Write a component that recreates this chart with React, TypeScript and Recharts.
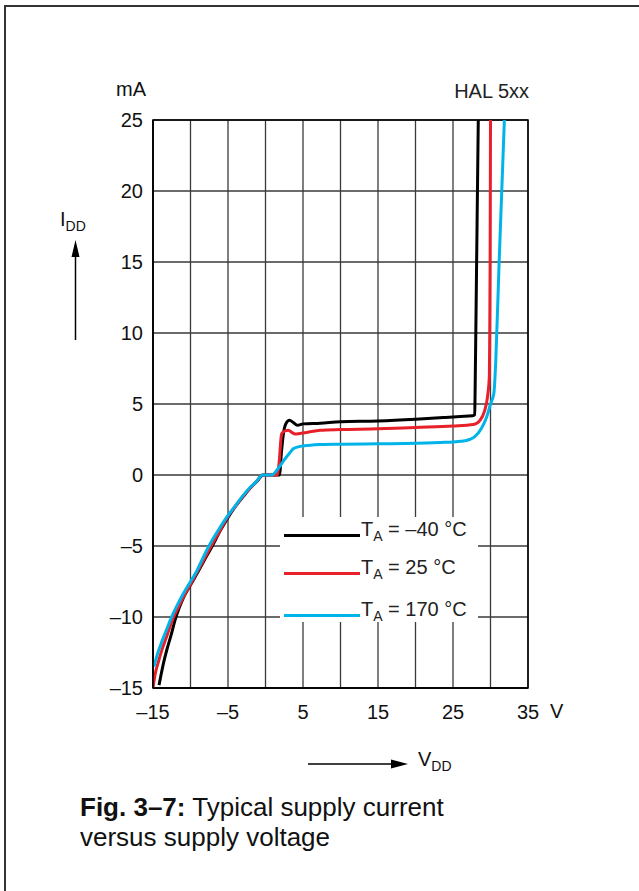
import React from "react";
import { LineChart, Line, XAxis, YAxis, CartesianGrid, ReferenceArea } from "recharts";

// Supply voltage V_DD (V) and supply current I_DD (mA) per temperature
const voltsM40 = [-14.2, -13.9, -13.6, -13.1, -12.6, -12.05, -11.5, -10.95, -10, -9.15, -8.1, -7.15, -6, -4.95, -4, -2.95, -2, -1.15, -0.3, 0.5, 1.85, 2.15, 2.4, 2.75, 3.2, 3.7, 4.25, 5.0, 7.3, 10, 15, 20, 24, 26, 27.6, 27.9, 27.95, 28.15, 28.37];
const ampsM40 = [-14.8, -14.0, -13.25, -12.2, -11.3, -10.2, -9.35, -8.65, -7.75, -6.95, -5.95, -5.05, -3.9, -2.95, -2.2, -1.5, -0.9, -0.45, 0, 0, 0, 1.75, 2.95, 3.65, 3.85, 3.7, 3.5, 3.6, 3.65, 3.75, 3.8, 3.92, 4.05, 4.12, 4.18, 4.25, 6, 15, 25];

const volts25 = [-15, -14.7, -14.3, -13.8, -13.2, -12.4, -11.6, -10.9, -10, -9.2, -8.2, -7.3, -6, -5, -4, -3, -2, -1.2, -0.4, 1.55, 1.8, 2.15, 2.6, 3.05, 3.5, 3.95, 4.6, 5.5, 7.3, 10, 15, 20, 25, 27.7, 28.6, 29.2, 29.6, 29.85, 29.9, 29.95, 30.0];
const amps25 = [-15, -14.0, -13.2, -12.3, -11.4, -10.2, -9.3, -8.55, -7.7, -6.9, -5.95, -5.05, -3.85, -2.9, -2.2, -1.5, -0.9, -0.45, 0, 0, 0.8, 2.9, 3.1, 3.15, 3.0, 2.88, 2.93, 3.0, 3.15, 3.2, 3.25, 3.35, 3.45, 3.55, 3.85, 4.5, 5.5, 7, 10, 15, 25];

const volts170 = [-14.87, -14.4, -13.8, -13.2, -12.6, -11.8, -11, -10, -9.2, -8.4, -7.6, -6.2, -5, -4, -3, -2, -1.2, -0.4, 0.9, 1.3, 1.9, 2.4, 2.85, 3.3, 3.7, 4.5, 5.5, 7.3, 10, 15, 20, 24, 26, 27.2, 27.9, 28.8, 29.5, 30.0, 30.45, 30.7, 31.13, 31.5, 31.85];
const amps170 = [-13.5, -12.6, -11.7, -10.9, -10.1, -9.2, -8.4, -7.5, -6.8, -5.9, -5.05, -3.8, -2.85, -2.15, -1.45, -0.85, -0.45, 0, 0, 0.2, 0.6, 1.0, 1.3, 1.6, 1.85, 2.0, 2.07, 2.15, 2.17, 2.2, 2.23, 2.3, 2.37, 2.5, 2.7, 3.3, 4.1, 5.0, 5.75, 8, 14.67, 20, 25];

const xTicks = [-15, -10, -5, 0, 5, 10, 15, 20, 25, 30, 35];
const xTickLabels = ["–15", "", "–5", "", "5", "", "15", "", "25", "", "35"];
const yTicks = [-15, -10, -5, 0, 5, 10, 15, 20, 25];
const yTickLabels = ["–15", "–10", "–5", "0", "5", "10", "15", "20", "25"];

const seriesNames = ["–40 °C", "25 °C", "170 °C"];
const seriesColors = ["#000000", "#e8202a", "#00b4ea"];

const zip = (v: number[], i: number[]) => v.map((x, k) => ({ v: x, i: i[k] }));
const series = [zip(voltsM40, ampsM40), zip(volts25, amps25), zip(volts170, amps170)];

const FONT = '"Liberation Sans", Arial, Helvetica, sans-serif';

const LegendBox = () => (
  <div style={{ position: "absolute", left: 280, top: 517, width: 198, height: 105, background: "#fff", fontFamily: FONT }}>
    {seriesNames.map((n, k) => (
      <div key={n} style={{ position: "absolute", left: 0, top: [0, 38, 80][k], height: 30, width: 198 }}>
        <div style={{ position: "absolute", left: 4, top: 16.5, width: 76, height: 3, background: seriesColors[k] }} />
        <div style={{ position: "absolute", left: 81, top: 2, fontSize: 20, color: "#222", whiteSpace: "nowrap", lineHeight: "20px" }}>
          T<sub style={{ fontSize: 14, verticalAlign: "-5px" }}>A</sub> = {n}
        </div>
      </div>
    ))}
  </div>
);

export default function App() {
  return (
    <div style={{ position: "absolute", left: 0, top: 0, width: 639, height: 891, background: "#fff", fontFamily: FONT, overflow: "hidden" }}>
      <div style={{ position: "absolute", left: 4, top: 5, width: 700, height: 950, borderLeft: "2px solid #333", borderTop: "2px solid #333" }} />
      <div style={{ position: "absolute", left: 0, top: 0 }}>
        <LineChart width={639} height={891} margin={{ top: 120, right: 111, bottom: 163, left: 93 }}>
          <CartesianGrid stroke="#3a3a3a" strokeWidth={1.3} />
          <XAxis
            type="number"
            dataKey="v"
            domain={[-15, 35]}
            ticks={xTicks}
            tickFormatter={(t: number) => xTickLabels[xTicks.indexOf(t)]}
            axisLine={{ stroke: "#000", strokeWidth: 1.5 }}
            tickLine={false}
            tickSize={0}
            tickMargin={17}
            height={40}
            allowDataOverflow
            interval={0}
            tick={{ fill: "#111", fontSize: 20, fontFamily: FONT }}
          />
          <YAxis
            type="number"
            dataKey="i"
            domain={[-15, 25]}
            ticks={yTicks}
            tickFormatter={(t: number) => yTickLabels[yTicks.indexOf(t)]}
            axisLine={{ stroke: "#000", strokeWidth: 1.5 }}
            tickLine={false}
            tickSize={0}
            tickMargin={10}
            width={60}
            allowDataOverflow
            interval={0}
            tick={{ fill: "#111", fontSize: 20, fontFamily: FONT }}
          />
          <ReferenceArea x1={-15} x2={35} y1={-15} y2={25} fill="none" stroke="#000" strokeWidth={1.5} />
          {series.map((d, k) => (
            <Line
              key={k}
              data={d}
              dataKey="i"
              name={seriesNames[k]}
              type="monotone"
              stroke={seriesColors[k]}
              strokeWidth={3}
              dot={false}
              activeDot={false}
              isAnimationActive={false}
            />
          ))}
        </LineChart>
      </div>
      <LegendBox />
      <div style={{ position: "absolute", right: 639 - 146, top: 78, fontSize: 20, color: "#111" }}>mA</div>
      <div style={{ position: "absolute", right: 639 - 529, top: 80, fontSize: 20, color: "#222" }}>HAL 5xx</div>
      <div style={{ position: "absolute", left: 550, top: 700, fontSize: 20, color: "#111" }}>V</div>
      <div style={{ position: "absolute", left: 60, top: 208, fontSize: 20, color: "#111", whiteSpace: "nowrap" }}>
        I<sub style={{ fontSize: 14, verticalAlign: "-5px" }}>DD</sub>
      </div>
      <svg style={{ position: "absolute", left: 0, top: 0 }} width={639} height={891}>
        <line x1={75.5} y1={340} x2={75.5} y2={252} stroke="#000" strokeWidth={1.5} />
        <polygon points="75.5,240 71.5,257 79.5,257" fill="#000" />
        <line x1={308} y1={764} x2={395} y2={764} stroke="#000" strokeWidth={1.5} />
        <polygon points="408,764 391,759.5 391,768.5" fill="#000" />
      </svg>
      <div style={{ position: "absolute", left: 418, top: 748, fontSize: 20, color: "#111", whiteSpace: "nowrap" }}>
        V<sub style={{ fontSize: 14, verticalAlign: "-5px" }}>DD</sub>
      </div>
      <div style={{ position: "absolute", left: 80, top: 792, fontSize: 26, lineHeight: "30px", color: "#111", whiteSpace: "nowrap" }}>
        <b>Fig. 3–7:</b> Typical supply current
        <br />
        versus supply voltage
      </div>
    </div>
  );
}
